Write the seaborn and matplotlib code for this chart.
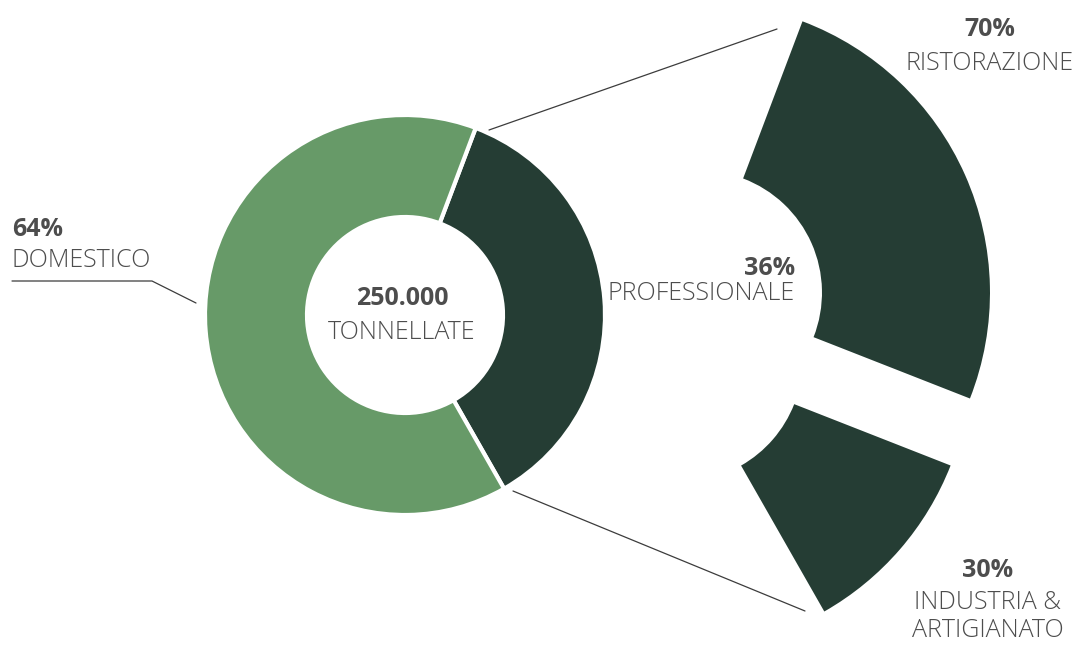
import matplotlib
matplotlib.use('Agg')
import matplotlib.pyplot as plt
import seaborn as sns

sns.set_theme(style='white')
plt.rcParams['font.family'] = ['Open Sans', 'DejaVu Sans']

# split of the 250.000 tonnes
main_labels = ['PROFESSIONALE', 'DOMESTICO']
main_share = [36, 64]
# breakdown of the professional share
sub_labels = ['RISTORAZIONE', 'INDUSTRIA &\nARTIGIANATO']
sub_share = [70, 30]
total_value = '250.000'
total_unit = 'TONNELLATE'

DARK = '#253d34'
GREEN = '#679a68'
TXT = '#4d4d4d'
LINE = '#3c3c3c'

W, H = 1075, 647
fig = plt.figure(figsize=(W / 100, H / 100), dpi=100)
ax = fig.add_axes([0, 0, 1, 1])

start = 69.3  # upper edge of the professional slice

# left donut
ax.pie(main_share, colors=[DARK, GREEN], startangle=start, counterclock=False,
       radius=200, center=(405, H - 315),
       wedgeprops=dict(width=102, edgecolor='white', linewidth=3))

# right pie: professional share spread over the same angle, exploded
sub_frac = [main_share[0] / 100 * s / 100 for s in sub_share]
ax.pie(sub_frac, normalize=False, colors=[DARK, DARK], startangle=start,
       counterclock=False, radius=290, center=(636, H - 321), explode=[70, 59],
       wedgeprops=dict(width=168, linewidth=0))

ax.set_xlim(0, W)
ax.set_ylim(0, H)
ax.set_aspect('equal')
ax.axis('off')


def label(x, y, s, bold=False, ha='left'):
    ax.text(x, H - y, s, ha=ha, va='baseline', color=TXT, fontsize=18,
            fontweight='bold' if bold else 'light')


# domestico
label(12, 236, f'{main_share[1]}%', bold=True)
label(12, 267, main_labels[1])
# centre
label(402, 305, total_value, bold=True, ha='center')
label(402, 339, total_unit, ha='center')
# professionale
label(795, 275, f'{main_share[0]}%', bold=True, ha='right')
label(795, 300, main_labels[0], ha='right')
# ristorazione
label(990, 36, f'{sub_share[0]}%', bold=True, ha='center')
label(990, 70, sub_labels[0], ha='center')
# industria (kept just inside the bottom edge)
label(988, 577, f'{sub_share[1]}%', bold=True, ha='center')
for i, part in enumerate(sub_labels[1].split('\n')):
    label(988, 609 + 28 * i, part, ha='center')

# leader lines
ax.plot([12, 152, 196], [H - 281, H - 281, H - 303], color=LINE, lw=0.9)
ax.plot([489, 777], [H - 130, H - 29], color=LINE, lw=0.9)
ax.plot([513, 805], [H - 491, H - 611], color=LINE, lw=0.9)

fig.savefig('out.png', dpi=100)
